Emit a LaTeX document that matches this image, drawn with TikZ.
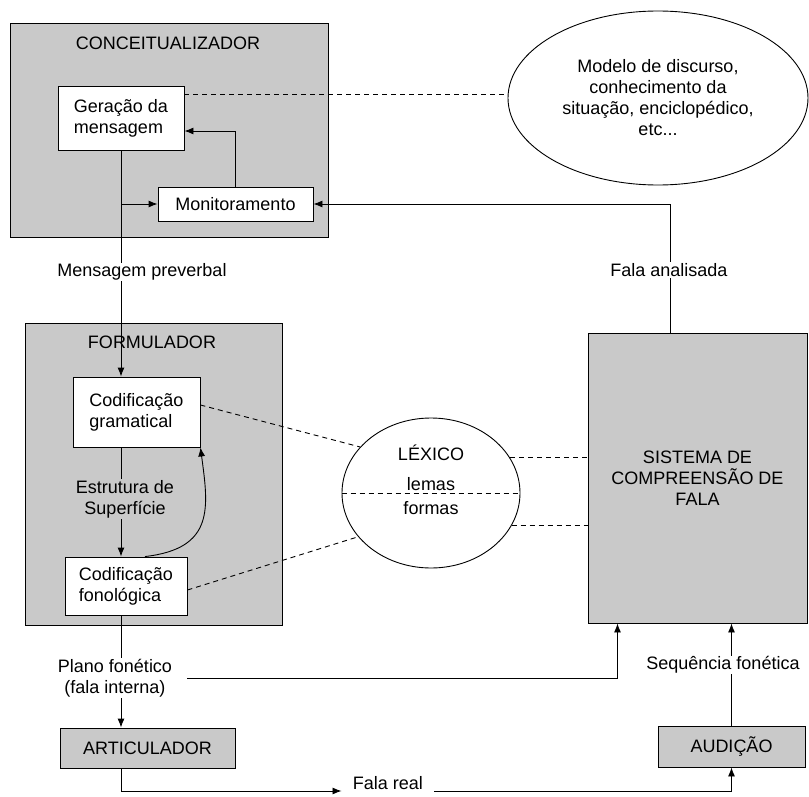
\documentclass[tikz,border=0pt]{standalone}
\usepackage{fontspec}
\setmainfont{Liberation Sans}
\usetikzlibrary{arrows.meta,shapes.geometric}
\definecolor{boxgray}{gray}{0.79}
\begin{document}
\begin{tikzpicture}[x=1pt,y=-1pt,line width=0.9pt,
  every node/.style={font=\fontsize{18}{21}\selectfont},
  module/.style={draw,fill=boxgray,inner sep=0pt,align=center},
  proc/.style={draw,fill=white,inner sep=0pt,align=left},
  store/.style={draw,ellipse,inner sep=0pt,align=center},
  flow/.style={-{Latex[length=9pt,width=7pt]}},
  link/.style={dash pattern=on 5pt off 4pt},
  lbl/.style={fill=white,inner sep=1pt,align=center}]
\useasboundingbox (0,0) rectangle (809,797);
\node[module,minimum width=318pt,minimum height=214pt] (conc) at (169,130) {};
\node (conctit) at (168,43) {CONCEITUALIZADOR};
\node[proc,minimum width=126pt,minimum height=64pt] (ger) at (121,118) {Geração da\\mensagem};
\node[proc,minimum width=155pt,minimum height=34pt] (mon) at (235.5,204) {Monitoramento};
\node[store,minimum width=300pt,minimum height=174pt] (mod) at (658,98) {Modelo de discurso,\\conhecimento da\\situação, enciclopédico,\\etc...};
\node[module,minimum width=257pt,minimum height=302pt] (form) at (153.5,474) {};
\node (formtit) at (152,342) {FORMULADOR};
\node[proc,minimum width=127pt,minimum height=70pt] (gram) at (136.5,412) {Codificação\\gramatical};
\node[proc,minimum width=122pt,minimum height=58pt] (fono) at (126,586) {Codificação\\fonológica};
\node[store,minimum width=178pt,minimum height=150pt] (lex) at (431,493) {};
\node (lextit) at (431,453) {LÉXICO};
\node (lemas) at (431,484) {lemas};
\node (formas) at (431,508) {formas};
\node[module,minimum width=219pt,minimum height=290pt] (sis) at (697.5,478) {SISTEMA DE\\COMPREENSÃO DE\\FALA};
\node[module,minimum width=175pt,minimum height=40pt] (art) at (147.5,748) {ARTICULADOR};
\node[module,minimum width=147pt,minimum height=41pt] (aud) at (731.5,746.5) {AUDIÇÃO};
\draw[flow] (ger.south) -- (ger.south |- gram.north);
\draw[flow] (ger.south |- mon.west) -- (mon.west);
\draw[flow] (mon.north) |- ([yshift=-13pt]ger.east);
\draw[link] ([yshift=24pt]ger.east) -- ([yshift=24pt]ger.east -| mod.west);
\draw[flow] ([xshift=-27pt]sis.north) |- (mon.east);
\draw[flow] (ger.south |- gram.south) -- (ger.south |- fono.north);
\draw[flow] ([xshift=19pt]fono.north) .. controls +(70,-8) and +(8,60) .. (gram.south east);
\draw[link] ([yshift=7pt]gram.east) -- (lex.147);
\draw[link] ([yshift=-4pt]fono.east) -- (lex.211);
\draw[link] (lex.west) -- (lex.east);
\draw[link] (lex.24) -- (lex.24 -| sis.west);
\draw[link] (lex.338) -- (lex.338 -| sis.west);
\draw[flow] (ger.south |- fono.south) -- (ger.south |- art.north);
\draw[flow] (aud.north) -- (aud.north |- sis.south);
\node[lbl] (prev) at (142,272) {Mensagem preverbal};
\node[lbl] (anal) at (669,270) {Fala analisada};
\node[lbl,fill=boxgray] (estr) at (125,499) {Estrutura de\\Superfície};
\node[lbl] (plano) at (115,678) {Plano fonético\\(fala interna)};
\node[lbl] (seq) at (723,665) {Sequência fonética};
\node[lbl] (real) at (388,783) {Fala real};
\draw[flow] ([xshift=14pt]plano.east) -| ([xshift=-80pt]sis.south);
\draw[flow] (ger.south |- art.south) |- ([xshift=-10pt,yshift=-8pt]real.west);
\draw[flow] ([xshift=10pt,yshift=-8pt]real.east) -| (aud.south);
\end{tikzpicture}
\end{document}
